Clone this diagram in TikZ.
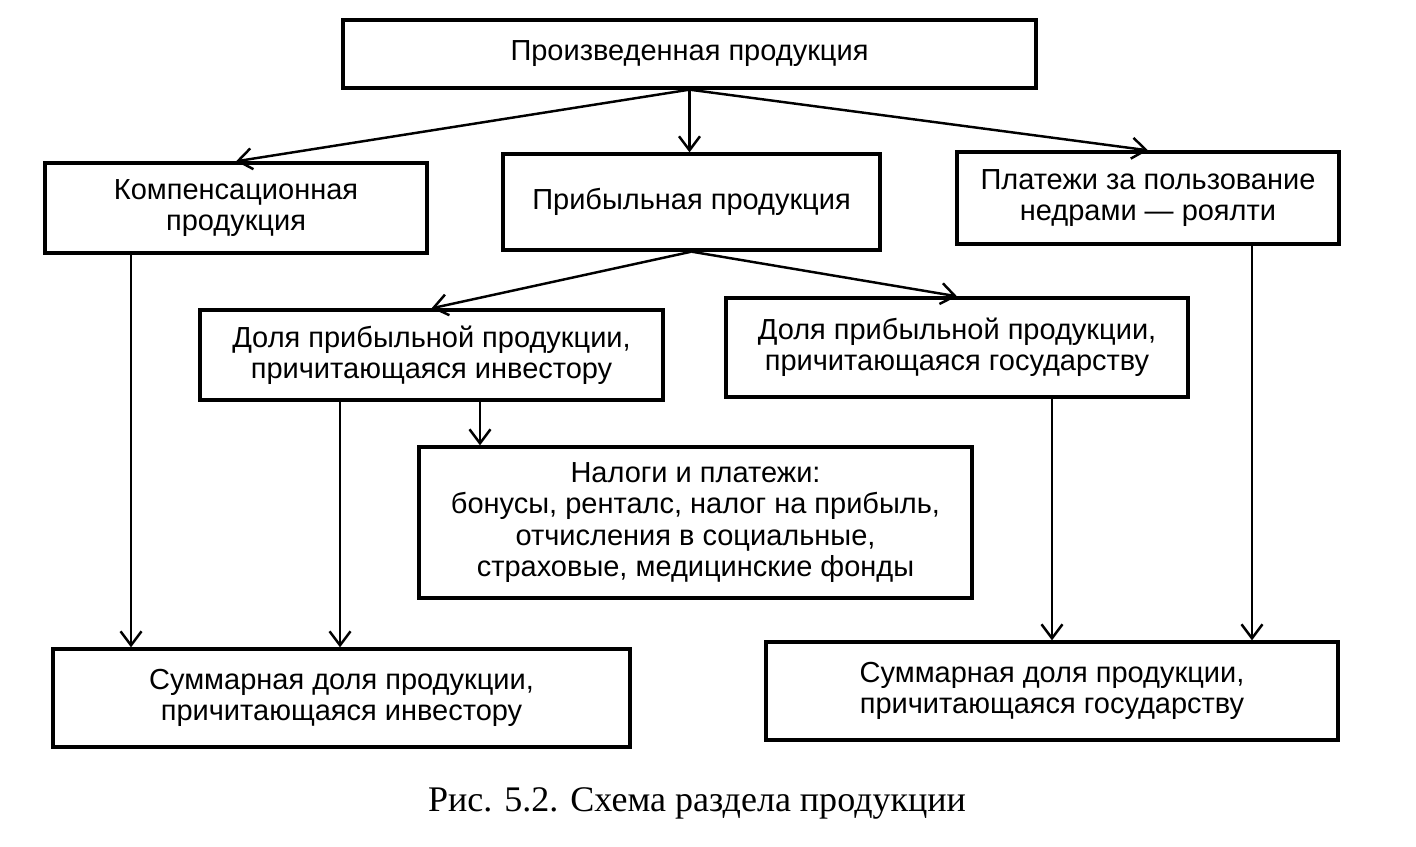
\documentclass[tikz,border=0pt]{standalone}
\usepackage{fontspec}
\setmainfont{Liberation Sans}
\newfontfamily\capfont{Liberation Serif}
\usetikzlibrary{arrows.meta}
\begin{document}
\begin{tikzpicture}[x=0.02cm,y=-0.02cm,
  box/.style={draw, line width=1.9pt, align=center, inner sep=0pt,
    font=\fontsize{16.5}{17.8}\selectfont},
  arr/.style={line width=1.4pt, -{Straight Barb[length=0.28cm,width=0.42cm,line width=1.4pt]}}]
\useasboundingbox (0,0) rectangle (1416,847);
\node[box, minimum width=13.86cm, minimum height=1.36cm] (top) at (689.5,54) {Произведенная продукция};
\node[box, minimum width=7.64cm, minimum height=1.8cm] (komp) at (236,208) {Компенсационная\\продукция};
\node[box, minimum width=7.54cm, minimum height=1.92cm] (prib) at (691.5,202) {Прибыльная продукция};
\node[box, minimum width=7.64cm, minimum height=1.84cm] (plat) at (1148,198) {Платежи за пользование\\недрами — роялти};
\node[box, minimum width=9.26cm, minimum height=1.8cm] (dinv) at (431.5,355) {Доля прибыльной продукции,\\причитающаяся инвестору};
\node[box, minimum width=9.24cm, minimum height=1.98cm] (dgos) at (957,347.5) {Доля прибыльной продукции,\\причитающаяся государству};
\node[box, minimum width=11.06cm, minimum height=3.02cm] (nal) at (695.5,522.5) {Налоги и платежи:\\бонусы, ренталс, налог на прибыль,\\отчисления в социальные,\\страховые, медицинские фонды};
\node[box, minimum width=11.54cm, minimum height=1.96cm] (sinv) at (341.5,698) {Суммарная доля продукции,\\причитающаяся инвестору};
\node[box, minimum width=11.44cm, minimum height=1.96cm] (sgos) at (1052,691) {Суммарная доля продукции,\\причитающаяся государству};
\node[font=\capfont\fontsize{20.5}{24}\selectfont] (cap) at (697,803) {Рис. 5.2. Схема раздела продукции};
\draw[arr] (top.south) -- (komp.north);
\draw[arr] (top.south) -- (top.south |- prib.north);
\draw[arr] (top.south) -- (plat.north);
\draw[arr] (prib.south) -- (dinv.north);
\draw[arr] (prib.south) -- (dgos.north);
\draw[arr] ([xshift=-2.1cm]komp.south) -- ([xshift=-2.1cm]komp.south |- sinv.north);
\draw[arr] ([xshift=-1.83cm]dinv.south) -- ([xshift=-1.83cm]dinv.south |- sinv.north);
\draw[arr] ([xshift=0.97cm]dinv.south) -- ([xshift=0.97cm]dinv.south |- nal.north);
\draw[arr] ([xshift=1.9cm]dgos.south) -- ([xshift=1.9cm]dgos.south |- sgos.north);
\draw[arr] ([xshift=2.08cm]plat.south) -- ([xshift=2.08cm]plat.south |- sgos.north);
\end{tikzpicture}
\end{document}
